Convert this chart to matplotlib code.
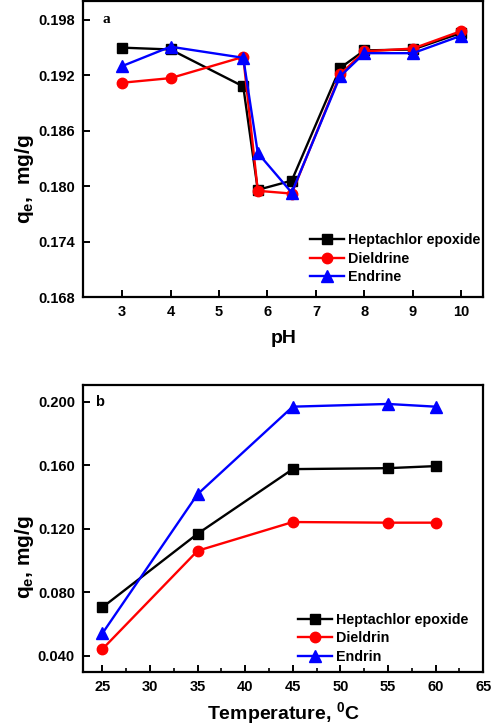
import matplotlib
matplotlib.use("Agg")
import matplotlib.pyplot as plt
from matplotlib.ticker import MultipleLocator, FormatStrFormatter

plt.rcParams['font.family'] = ['Liberation Sans', 'DejaVu Sans']
plt.rcParams['font.weight'] = 'bold'
plt.rcParams['mathtext.fontset'] = 'custom'
plt.rcParams['mathtext.rm'] = 'Liberation Sans:bold'
plt.rcParams['mathtext.it'] = 'Liberation Sans:bold'
plt.rcParams['mathtext.bf'] = 'Liberation Sans:bold'

# Panel a data
ph = [3, 4, 5.5, 5.8, 6.5, 7.5, 8, 9, 10]
hep_a = [0.1950, 0.1948, 0.1908, 0.1796, 0.1806, 0.1928, 0.1947, 0.1948, 0.1966]
diel_a = [0.1912, 0.1917, 0.1940, 0.1795, 0.1792, 0.1921, 0.1946, 0.1949, 0.1968]
endr_a = [0.1930, 0.1951, 0.1939, 0.1836, 0.1793, 0.1919, 0.1944, 0.1944, 0.1963]
labels_a = ['Heptachlor epoxide', 'Dieldrine', 'Endrine']

# Panel b data
temp = [25, 35, 45, 55, 60]
hep_b = [0.0705, 0.1168, 0.1575, 0.1581, 0.1594]
diel_b = [0.0442, 0.1061, 0.1242, 0.1238, 0.1238]
endr_b = [0.0541, 0.1417, 0.1968, 0.1985, 0.1968]
labels_b = ['Heptachlor epoxide', 'Dieldrin', 'Endrin']

colors = ['black', 'red', 'blue']
markers = ['s', 'o', '^']
msizes = [6.5, 7.5, 8]

fig = plt.figure(figsize=(4.93, 7.28), dpi=100)
ax1 = fig.add_axes([0.169, 0.592, 0.811, 0.406])
ax2 = fig.add_axes([0.169, 0.0773, 0.811, 0.394])

for ys, c, m, ms, lab in zip([hep_a, diel_a, endr_a], colors, markers, msizes, labels_a):
    ax1.plot(ph, ys, color=c, marker=m, markersize=ms, linewidth=1.7, label=lab)
ax1.set_xlim(2.2, 10.45)
ax1.set_ylim(0.168, 0.200)
ax1.set_xticks([3, 4, 5, 6, 7, 8, 9, 10])
ax1.set_yticks([0.168, 0.174, 0.180, 0.186, 0.192, 0.198])
ax1.yaxis.set_major_formatter(FormatStrFormatter('%.3f'))
ax1.set_xlabel('pH', fontsize=14, fontweight='bold', labelpad=8)
ax1.set_ylabel('q$_{\\mathrm{e}}$,  mg/g', fontsize=15, fontweight='bold', va='center')
ax1.yaxis.set_label_coords(-0.147, 0.40)
ax1.text(0.058, 0.94, 'a', transform=ax1.transAxes, fontsize=11, fontweight='bold',
         family=['Liberation Serif'], va='center', ha='center')
leg1 = ax1.legend(loc='lower right', bbox_to_anchor=(1.0085, 0.024), borderaxespad=0,
                  frameon=False, fontsize=10.3, handlelength=2.4,
                  handletextpad=0.3, labelspacing=0.32)

for ys, c, m, ms, lab in zip([hep_b, diel_b, endr_b], colors, markers, msizes, labels_b):
    ax2.plot(temp, ys, color=c, marker=m, markersize=ms, linewidth=1.7, label=lab)
ax2.set_xlim(23, 65)
ax2.set_ylim(0.03, 0.2105)
ax2.set_xticks([25, 30, 35, 40, 45, 50, 55, 60, 65])
ax2.xaxis.set_minor_locator(MultipleLocator(2.5))
ax2.set_yticks([0.040, 0.080, 0.120, 0.160, 0.200])
ax2.yaxis.set_major_formatter(FormatStrFormatter('%.3f'))
ax2.set_xlabel('Temperature, $^{\\mathrm{0}}$C', fontsize=14, fontweight='bold', labelpad=4)
ax2.set_ylabel('q$_{\\mathrm{e}}$, mg/g', fontsize=15, fontweight='bold', va='center')
ax2.yaxis.set_label_coords(-0.147, 0.40)
ax2.text(0.04, 0.94, 'b', transform=ax2.transAxes, fontsize=10.5, fontweight='bold',
         va='center', ha='center')
leg2 = ax2.legend(loc='lower right', bbox_to_anchor=(0.9785, 0.008), borderaxespad=0,
                  frameon=False, fontsize=10.3, handlelength=2.4,
                  handletextpad=0.3, labelspacing=0.32)

for ax in (ax1, ax2):
    for s in ax.spines.values():
        s.set_linewidth(1.6)
    ax.tick_params(direction='in', width=1.4, length=5, labelsize=10.5, pad=6)
    ax.tick_params(which='minor', direction='in', width=1.2, length=3)
    for lab in ax.get_xticklabels() + ax.get_yticklabels():
        lab.set_fontweight('bold')

fig.savefig('out.png', dpi=100)
